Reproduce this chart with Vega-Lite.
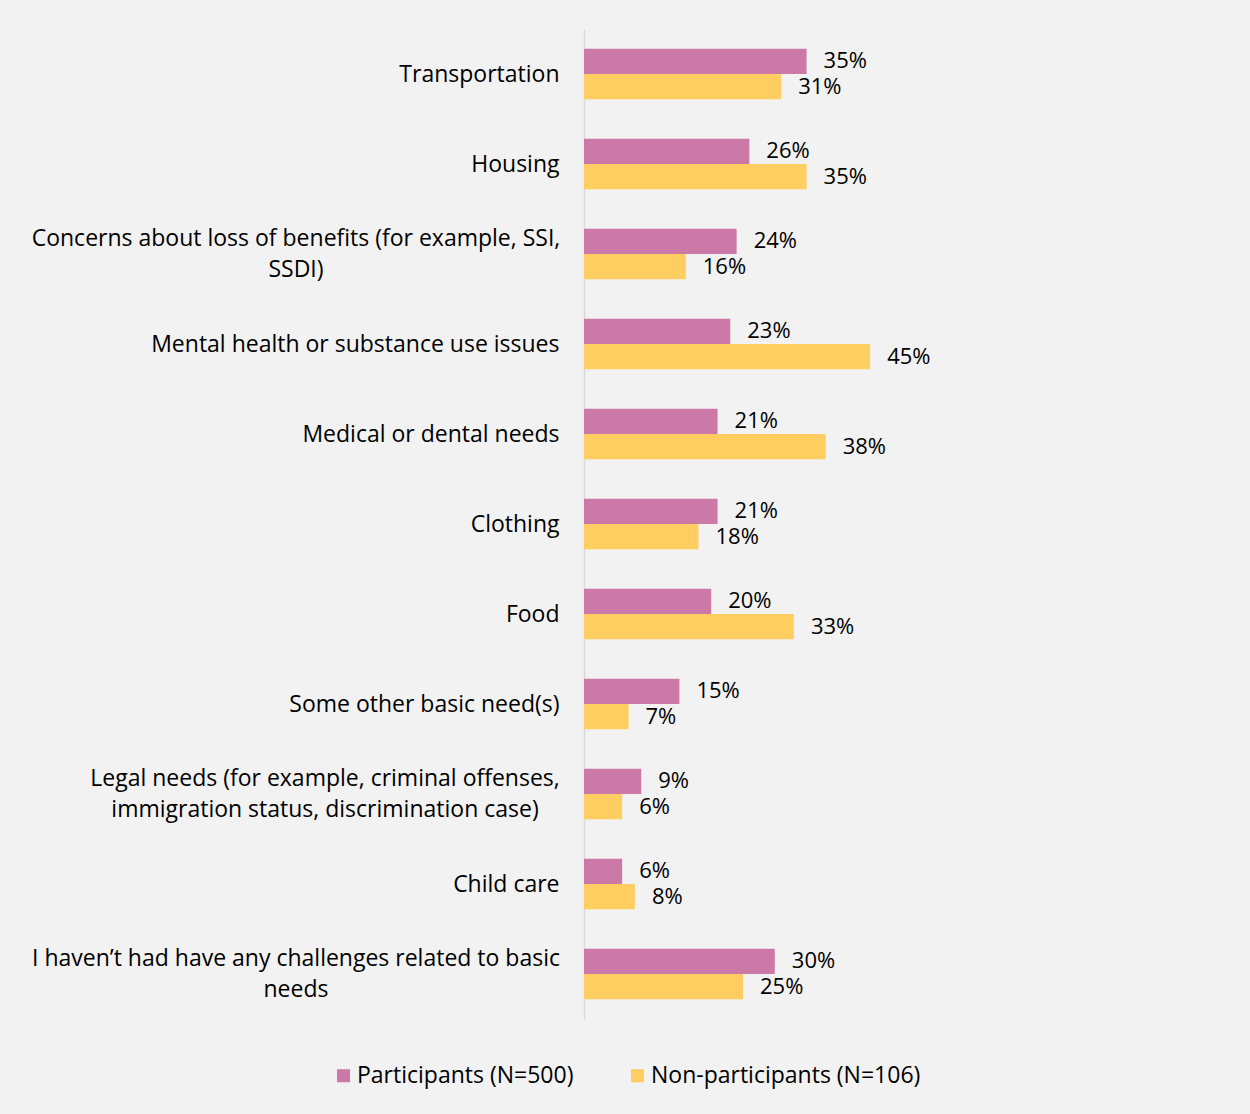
{
  "$schema": "https://vega.github.io/schema/vega-lite/v6.json",
  "width": 318,
  "height": 990,
  "autosize": {"type": "none"},
  "padding": {"left": 584, "top": 29, "right": 348, "bottom": 95},
  "background": "#f2f2f2",
  "config": {
    "view": {"stroke": null},
    "font": "Open Sans",
    "text": {"font": "Open Sans"}
  },
  "data": {
    "values": [
      {"need": "Transportation", "group": "Participants (N=500)", "share": 0.35},
      {"need": "Transportation", "group": "Non-participants (N=106)", "share": 0.31},
      {"need": "Housing", "group": "Participants (N=500)", "share": 0.26},
      {"need": "Housing", "group": "Non-participants (N=106)", "share": 0.35},
      {"need": "Concerns about loss of benefits (for example, SSI,|SSDI)", "group": "Participants (N=500)", "share": 0.24},
      {"need": "Concerns about loss of benefits (for example, SSI,|SSDI)", "group": "Non-participants (N=106)", "share": 0.16},
      {"need": "Mental health or substance use issues", "group": "Participants (N=500)", "share": 0.23},
      {"need": "Mental health or substance use issues", "group": "Non-participants (N=106)", "share": 0.45},
      {"need": "Medical or dental needs", "group": "Participants (N=500)", "share": 0.21},
      {"need": "Medical or dental needs", "group": "Non-participants (N=106)", "share": 0.38},
      {"need": "Clothing", "group": "Participants (N=500)", "share": 0.21},
      {"need": "Clothing", "group": "Non-participants (N=106)", "share": 0.18},
      {"need": "Food", "group": "Participants (N=500)", "share": 0.20},
      {"need": "Food", "group": "Non-participants (N=106)", "share": 0.33},
      {"need": "Some other basic need(s)", "group": "Participants (N=500)", "share": 0.15},
      {"need": "Some other basic need(s)", "group": "Non-participants (N=106)", "share": 0.07},
      {"need": "Legal needs (for example, criminal offenses,|immigration status, discrimination case)", "group": "Participants (N=500)", "share": 0.09},
      {"need": "Legal needs (for example, criminal offenses,|immigration status, discrimination case)", "group": "Non-participants (N=106)", "share": 0.06},
      {"need": "Child care", "group": "Participants (N=500)", "share": 0.06},
      {"need": "Child care", "group": "Non-participants (N=106)", "share": 0.08},
      {"need": "I haven’t had have any challenges related to basic|needs", "group": "Participants (N=500)", "share": 0.30},
      {"need": "I haven’t had have any challenges related to basic|needs", "group": "Non-participants (N=106)", "share": 0.25}
    ]
  },
  "encoding": {
    "y": {
      "field": "need",
      "type": "nominal",
      "sort": null,
      "scale": {"paddingInner": 0.44, "paddingOuter": 0.22},
      "axis": {
        "title": null,
        "ticks": false,
        "domainColor": "#d9d9d9",
        "domainWidth": 1.5,
        "labelFont": "Open Sans",
        "labelFontSize": 23,
        "labelColor": "#000000",
        "labelLimit": 700,
        "labelLineHeight": 31,
        "labelExpr": "split(datum.label, '|')",
        "labelAlign": {"expr": "indexof(datum.value, '|') >= 0 ? 'center' : 'right'"},
        "labelOffset": {"expr": "indexof(datum.value, '|') >= 0 ? -15 : 1"},
        "labelPadding": {"expr": "indexof(datum.value, 'Concerns') == 0 ? 288.5 : indexof(datum.value, 'Legal') == 0 ? 259.5 : indexof(datum.value, 'I haven') == 0 ? 288.5 : 25"}
      }
    },
    "yOffset": {
      "field": "group",
      "type": "nominal",
      "sort": ["Participants (N=500)", "Non-participants (N=106)"],
      "scale": {"paddingInner": 0, "paddingOuter": 0}
    },
    "x": {
      "field": "share",
      "type": "quantitative",
      "scale": {"domain": [0, 0.5]},
      "axis": null
    }
  },
  "layer": [
    {
      "mark": {"type": "bar"},
      "encoding": {
        "color": {
          "field": "group",
          "type": "nominal",
          "scale": {
            "domain": ["Participants (N=500)", "Non-participants (N=106)"],
            "range": ["#cc79a7", "#ffcd60"]
          },
          "legend": {
            "title": null,
            "orient": "none",
            "direction": "horizontal",
            "legendX": -252,
            "legendY": 1035,
            "symbolType": "square",
            "symbolSize": 170,
            "symbolStrokeWidth": 0,
            "labelFont": "Open Sans",
            "labelFontSize": 23,
            "labelColor": "#000000",
            "labelLimit": 400,
            "columnPadding": 52,
            "labelOffset": 2
          }
        }
      }
    },
    {
      "mark": {"type": "text", "align": "left", "baseline": "middle", "dx": 17, "fontSize": 22, "font": "Open Sans", "color": "#000000"},
      "encoding": {
        "text": {"field": "share", "type": "quantitative", "format": ".0%"}
      }
    }
  ]
}
